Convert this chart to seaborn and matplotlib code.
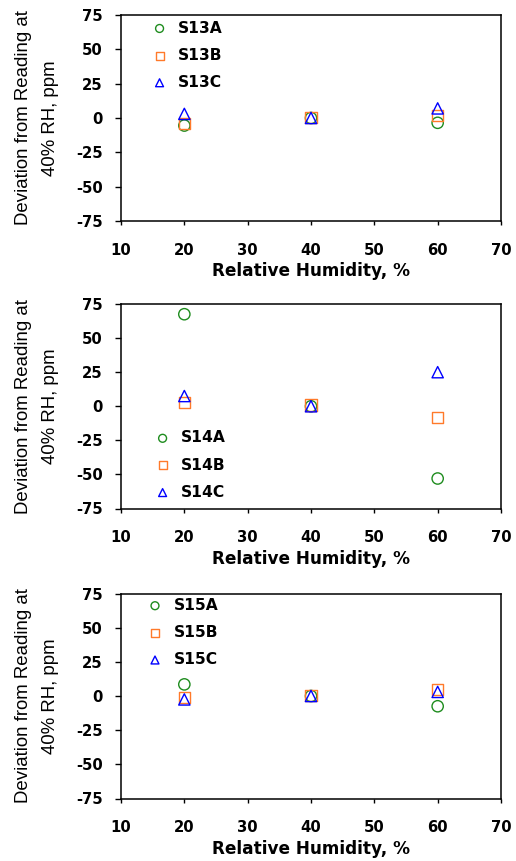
import matplotlib
matplotlib.use("Agg")
import matplotlib.pyplot as plt
from matplotlib import font_manager as fm
import seaborn as sns

# ---- data ----
rh = [20, 40, 60]
x_ticks = [10, 20, 30, 40, 50, 60, 70]
y_ticks = [-75, -50, -25, 0, 25, 50, 75]

s13a = [-5.5, 0, -3.5]
s13b = [-4, 0.5, 2]
s13c = [3, 0, 7]

s14a = [67.5, 0, -53]
s14b = [3, 1, -8.5]
s14c = [7.5, 0, 25]

s15a = [8.5, 0, -7.5]
s15b = [-1, 0.5, 4.5]
s15c = [-2.5, 0, 3]

labels13 = ["S13A", "S13B", "S13C"]
labels14 = ["S14A", "S14B", "S14C"]
labels15 = ["S15A", "S15B", "S15C"]

markers = ["o", "s", "^"]
colors = ["#1E8C1E", "#FF7A2A", "#0000FF"]

# ---- style ----
sns.set_style("white")
plt.rcParams["font.family"] = ["DejaVu Sans"]
plt.rcParams["text.color"] = "black"
plt.rcParams["axes.labelcolor"] = "black"
plt.rcParams["xtick.color"] = "black"
plt.rcParams["ytick.color"] = "black"

try:
    fm.findfont(fm.FontProperties(family="Liberation Sans Narrow"), fallback_to_default=False)
    ylab_family, ylab_size, ylab_ls, ylab_pad = ["Liberation Sans Narrow", "Liberation Sans"], 16.3, 1.55, 8
except Exception:
    ylab_family, ylab_size, ylab_ls, ylab_pad = ["Liberation Sans", "DejaVu Sans"], 13.4, 1.75, 12.5

fig = plt.figure(figsize=(5.16, 8.61), dpi=100)
W, H = 516.0, 861.0


def add_axes(left_px, right_px, top_px, bottom_px):
    return fig.add_axes([left_px / W, 1 - bottom_px / H,
                         (right_px - left_px) / W, (bottom_px - top_px) / H])


panels = [
    (add_axes(121, 501, 15, 221), [s13a, s13b, s13c], labels13, (0.081, 0.973)),
    (add_axes(121, 501, 304, 508.5), [s14a, s14b, s14c], labels14, (0.089, 0.382)),
    (add_axes(121, 501, 593.5, 798.5), [s15a, s15b, s15c], labels15, (0.069, 0.979)),
]

for ax, series, labels, anchor in panels:
    for vals, lab, mk, col in zip(series, labels, markers, colors):
        sns.scatterplot(x=rh, y=vals, ax=ax, marker=mk, s=66, color=col,
                        facecolor="none", edgecolor=col, linewidth=1.0,
                        label=lab, legend=False)
    ax.set_xlim(10, 70)
    ax.set_ylim(-75, 75)
    ax.set_xticks(x_ticks)
    ax.set_yticks(y_ticks)
    ax.set_xticklabels([str(v) for v in x_ticks], fontsize=10.7, fontweight="bold", color="black")
    ax.set_yticklabels([str(v) for v in y_ticks], fontsize=10.7, fontweight="bold", color="black")
    ax.tick_params(axis="y", direction="out", length=4.5, width=1.0, pad=8.5,
                   left=True, right=False, colors="black")
    ax.tick_params(axis="x", direction="out", length=3, width=1.0, pad=12.5,
                   bottom=True, top=False, colors="black")
    for sp in ax.spines.values():
        sp.set_visible(True)
        sp.set_color("black")
        sp.set_linewidth(1.1)
    ax.grid(False)
    ax.set_xlabel("Relative Humidity, %", fontsize=12.2, fontweight="bold",
                  labelpad=3.5, color="black")
    ax.set_ylabel("Deviation from Reading at\n40% RH, ppm", family=ylab_family,
                  fontsize=ylab_size, linespacing=ylab_ls, labelpad=ylab_pad, color="black")
    leg = ax.legend(loc="upper left", bbox_to_anchor=anchor, frameon=False,
                    borderpad=0, borderaxespad=0, handlelength=1.0,
                    handletextpad=0.7, labelspacing=0.78, markerscale=0.7,
                    prop={"family": "DejaVu Sans", "weight": "bold", "size": 11.2})
    for t in leg.get_texts():
        t.set_color("black")

fig.savefig("out.png", dpi=100, facecolor="white")
